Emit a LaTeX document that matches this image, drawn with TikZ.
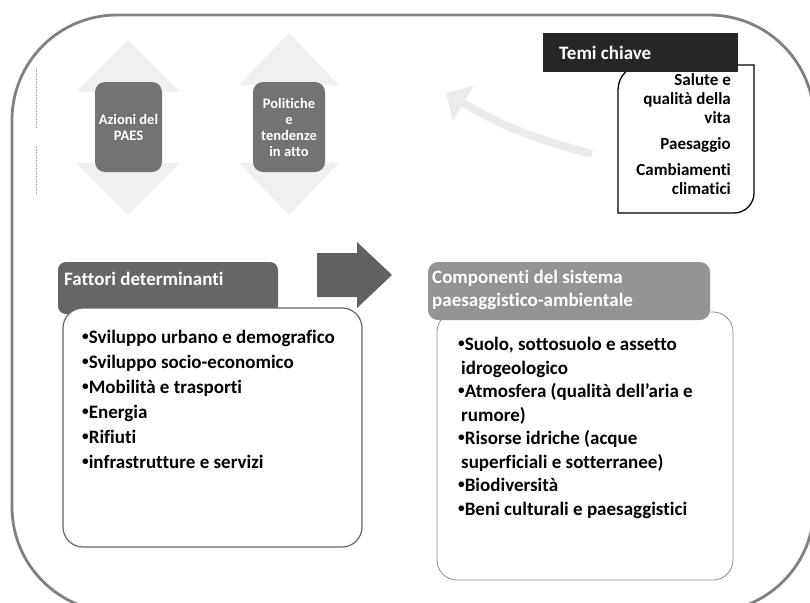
\documentclass[tikz,border=0pt]{standalone}
\usepackage{fontspec}
\setmainfont{Carlito}[Ligatures=NoCommon]
\usetikzlibrary{arrows.meta}
\newcommand{\vdouble}[5]% centre x, top tip, bottom tip, half head, half shaft
{(#1,#2) -- (#1+#4,#2+52) -- (#1+#5,#2+52) -- (#1+#5,#3-52) -- (#1+#4,#3-52)
 -- (#1,#3) -- (#1-#4,#3-52) -- (#1-#5,#3-52) -- (#1-#5,#2+52) -- (#1-#4,#2+52) -- cycle
}
\newcommand{\bul}{\raisebox{0.3ex}{\scalebox{0.7}{•}}}

\begin{document}
\begin{tikzpicture}[x=1pt,y=-1pt,
  hdr/.style={text=white,font=\bfseries\fontsize{19}{23}\selectfont,inner sep=0,anchor=west,align=left},
  listtext/.style={font=\bfseries\fontsize{19}{25}\selectfont,inner sep=0,anchor=north west,align=left},
  panel/.style={fill=white,rounded corners=20},
  smallbox/.style={fill=black!55,rounded corners=10,text=white,font=\bfseries\fontsize{14.5}{16}\selectfont,align=center,inner sep=1pt},
  faded/.style={fill=black!6,draw=none}]
\useasboundingbox (0,0) rectangle (810,602);
\clip (0,0) rectangle (810,602);
% outer frame
\draw[black!50,line width=2.8,rounded corners=105] (12,15) rectangle (814,612);
\draw[black!35,densely dotted,line width=0.6] (36,68) -- (36,128) (36,147) -- (36,195);
% top row
\fill[faded] \vdouble{128}{40}{215}{52}{30};
\fill[faded] \vdouble{289}{33}{215}{50}{30};
\node[smallbox,minimum width=67,minimum height=90] (azioni) at (128.5,127) {Azioni del\\PAES};
\node[smallbox,minimum width=72,minimum height=90] (politiche) at (289,127) {Politiche\\e\\tendenze\\in atto};
\coordinate (fadetail) at (592,154);
\coordinate (fadetip) at (446,93);
\draw[black!8,line width=8,-{Triangle[length=20pt,width=40pt]}] (fadetail) to[bend left=8] (fadetip);
% temi chiave
\filldraw[fill=white,line width=1.3] (754,65) -- (754,193) .. controls (754,204) and (745,213) .. (734,213)
  -- (618,213) -- (618,90) .. controls (618,76) and (629,65) .. (643,65) -- cycle;
\node[fill=black!85,minimum width=195,minimum height=39,anchor=north west,inner sep=0] (temihdr) at (543,33) {};
\node[hdr] (temititle) at (559,53) {Temi chiave};
\node[font=\bfseries\fontsize{17}{19}\selectfont,anchor=north east,align=right,inner sep=0] (temilist) at (731,73)
  {Salute e\\qualità della\\vita\\[7pt]Paesaggio\\[7pt]Cambiamenti\\climatici};
% fattori determinanti
\fill[black!62] (317,253) -- (357,253) -- (357,242) -- (392,275) -- (357,308) -- (357,297) -- (317,297) -- cycle;
\fill[black!60,rounded corners=8] (58,262) rectangle (278,314);
\node[hdr] (fattorititle) at (64,279) {Fattori determinanti};
\draw[panel,draw=black!60,line width=1.2] (63,308) rectangle (362,547);
\node[listtext] (fattorilist) at (82,330) {\bul Sviluppo urbano e demografico\\\bul Sviluppo socio-economico\\\bul Mobilità e trasporti\\\bul Energia\\\bul Rifiuti\\\bul infrastrutture e servizi};
% componenti
\draw[panel,draw=black!45,line width=0.8] (437,312) rectangle (733,580);
\fill[black!42,rounded corners=10] (428,262) rectangle (710,320);
\node[hdr] (componentititle) at (432,290) {Componenti del sistema\\paesaggistico-ambientale};
\node[listtext,font=\bfseries\fontsize{19}{23.5}\selectfont] (componentilist) at (458,337)
  {\bul Suolo, sottosuolo e assetto\\\hspace{3pt}idrogeologico\\\bul Atmosfera (qualità dell’aria e\\\hspace{3pt}rumore)\\\bul Risorse idriche (acque\\\hspace{3pt}superficiali e sotterranee)\\\bul Biodiversità\\\bul Beni culturali e paesaggistici};
\end{tikzpicture}
\end{document}
